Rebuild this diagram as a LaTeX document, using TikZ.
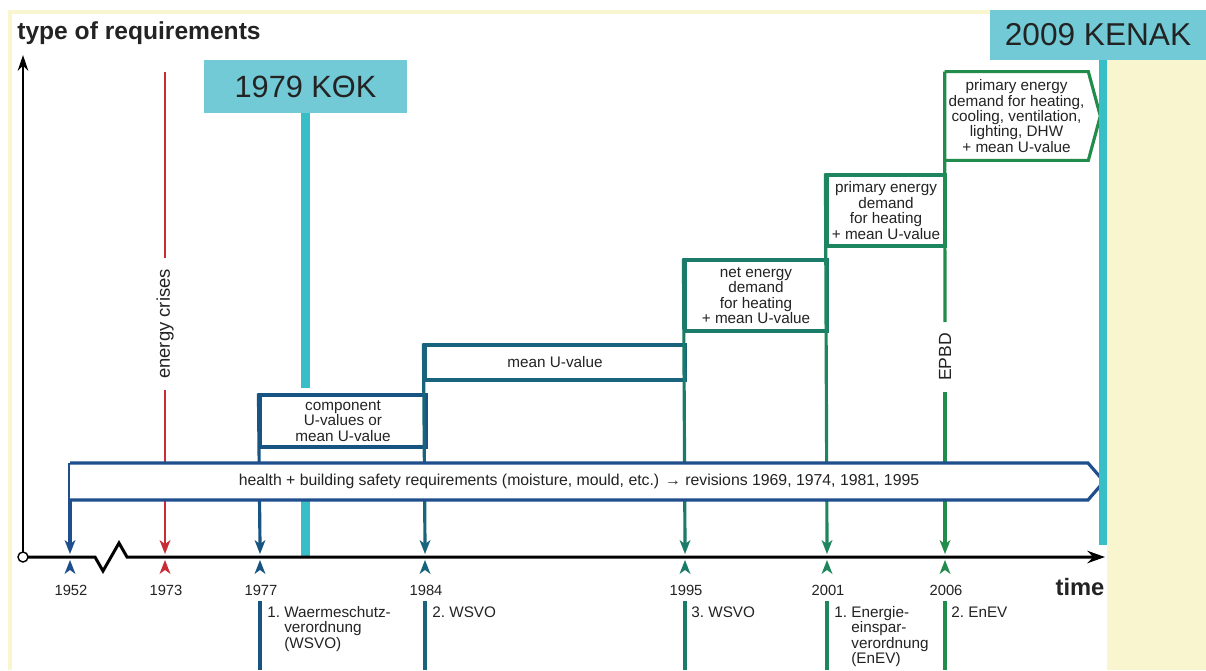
\documentclass[tikz,border=0pt]{standalone}
\usepackage{fontspec}
\setmainfont{Liberation Sans}
\usetikzlibrary{arrows.meta,positioning}

\definecolor{paper}{RGB}{249,246,207}
\definecolor{kcyan}{RGB}{56,190,199}
\definecolor{kfill}{RGB}{114,202,214}
\definecolor{crisis}{RGB}{200,45,55}
\definecolor{c52}{RGB}{30,78,140}
\definecolor{c77}{RGB}{24,84,130}
\definecolor{c84}{RGB}{24,100,124}
\definecolor{c95}{RGB}{26,124,104}
\definecolor{c01}{RGB}{30,134,94}
\definecolor{c06}{RGB}{34,140,76}
\definecolor{ink}{RGB}{35,35,35}

\begin{document}
\begin{tikzpicture}[x=0.02cm,y=-0.02cm,
  small/.style={font=\fontsize{8.7}{8.8}\selectfont, text=ink, inner sep=0pt, align=center},
  stepbox/.style={small, draw, line width=1.8pt, fill=white},
  yearlabel/.style={font=\fontsize{8.4}{9}\selectfont, text=ink, inner sep=0pt},
  lawlabel/.style={small, align=left, anchor=north west},
  kbox/.style={fill=kfill, text=ink, inner sep=0pt},
  kline/.style={kcyan, line width=4.6pt},
  yline/.style={line width=1.8pt},
  axis/.style={black, line width=1.7pt}]
\useasboundingbox (0,0) rectangle (1206,670);
\fill[white] (0,0) rectangle (1206,670);
\fill[paper] (8,10) rectangle (990,14);
\fill[paper] (8,10) rectangle (12,670);
\fill[paper] (1107,60) rectangle (1206,670);

\node[anchor=west, font=\bfseries\fontsize{14}{15}\selectfont, text=ink, inner sep=0pt] (title) at (17,33) {type of requirements};

\node[kbox, font=\fontsize{17.5}{18}\selectfont, minimum width=4.06cm, minimum height=1.06cm] (kok) at (305.5,86.5) {1979 KΘK};
\draw[kline] (kok.south) -- ++(0,275);
\draw[kline] (305.5,500) -- (305.5,557);

\node[stepbox, draw=c77, minimum width=3.32cm, minimum height=1.04cm] (box77) at (343,421) {component\\U-values or\\mean U-value};
\node[stepbox, draw=c84, minimum width=5.2cm, minimum height=0.7cm] (box84) at (555,362.5) {mean U-value};
\node[stepbox, draw=c95, minimum width=2.84cm, minimum height=1.42cm] (box95) at (756,295.5) {net energy\\demand\\for heating\\+ mean U-value};
\node[stepbox, draw=c01, minimum width=2.36cm, minimum height=1.42cm] (box01) at (886,210.5) {primary energy\\demand\\for heating\\+ mean U-value};
\node[small, minimum width=2.86cm, minimum height=1.76cm] (box06) at (1016.5,116) {primary energy\\demand for heating,\\cooling, ventilation,\\lighting, DHW\\+ mean U-value};
\draw[c06, line width=1.8pt, line join=miter] (box06.north west) -- (box06.north east) -- ([xshift=0.24cm]box06.east) -- (box06.south east) -- (box06.south west);

\node[rotate=90, font=\fontsize{10}{10}\selectfont, text=ink, inner xsep=6pt, inner ysep=0pt] (epbd) at (945,357) {EPBD};
\node[rotate=90, font=\fontsize{10.5}{11}\selectfont, text=ink, inner xsep=6pt, inner ysep=0pt] (crises) at (165,324) {energy crises};

\draw[yline, c52] (70,463) -- (70,545);
\draw[yline, c77] (box77.north west) -- (260,545);
\draw[yline, c84] (box84.north west) -- (425,545);
\draw[yline, c95] (box95.north west) -- (685,545);
\draw[yline, c01] (box01.north west) -- (827,545);
\draw[yline, c06] (box06.north west) -- (epbd.east);
\draw[yline, c06] (epbd.west) -- (945,545);
\draw[crisis, line width=1.5pt] (165,72) -- (crises.east);
\draw[crisis, line width=1.5pt] (crises.west) -- (165,545);

\draw[c52, line width=1.8pt, fill=white, line join=miter] (70,463) -- (1088,463) -- (1104,481.5) -- (1088,500) -- (70,500);
\node[small, font=\fontsize{9}{9}\selectfont] (health) at (579,481.5) {health + building safety requirements (moisture, mould, etc.) → revisions 1969, 1974, 1981, 1995};

\foreach \xx/\cc/\yy in {70/c52/1952,165/crisis/1973,260/c77/1977,425/c84/1984,685/c95/1995,827/c01/2001,945/c06/2006}{
  \fill[\cc] (\xx,554) -- (\xx+5.5,540) -- (\xx,544) -- (\xx-5.5,540) -- cycle;
  \fill[\cc] (\xx,560) -- (\xx+5.5,574) -- (\xx,570) -- (\xx-5.5,574) -- cycle;
  \node[yearlabel] (y\yy) at (\xx+1,590) {\yy};
}
\foreach \xx/\cc in {260/c77,425/c84,685/c95,827/c01,945/c06}
  \draw[yline, \cc] (\xx,601) -- (\xx,670);

\node[lawlabel] (law77) at (267,606) {1.~Waermeschutz-\\\hphantom{1.~}verordnung\\\hphantom{1.~}(WSVO)};
\node[lawlabel] (law84) at (432,606) {2.~WSVO};
\node[lawlabel] (law95) at (691,606) {3.~WSVO};
\node[lawlabel] (law01) at (834,606) {1.~Energie-\\\hphantom{1.~}einspar-\\\hphantom{1.~}verordnung\\\hphantom{1.~}(EnEV)};
\node[lawlabel] (law06) at (951,606) {2.~EnEV};

\draw[axis, -{Stealth[length=10pt,width=7pt]}] (28,557) -- (95,557) -- (103,571) -- (119,543) -- (127,557) -- (1105,557);
\draw[axis, -{Stealth[length=9pt,width=6pt]}] (23,552) -- (23,55);
\node[circle, draw, fill=white, line width=0.8pt, minimum size=0.2cm, inner sep=0pt] (origin) at (23,557) {};
\node[font=\bfseries\fontsize{13.5}{14}\selectfont, text=ink, inner sep=0pt] (time) at (1080,587) {time};

\node[kbox, font=\fontsize{18}{19}\selectfont, minimum width=4.32cm, minimum height=1cm] (kenak) at (1098,35) {2009 KENAK};
\draw[kline] ([xshift=0.1cm]kenak.south) -- ++(0,485);
\end{tikzpicture}
\end{document}
